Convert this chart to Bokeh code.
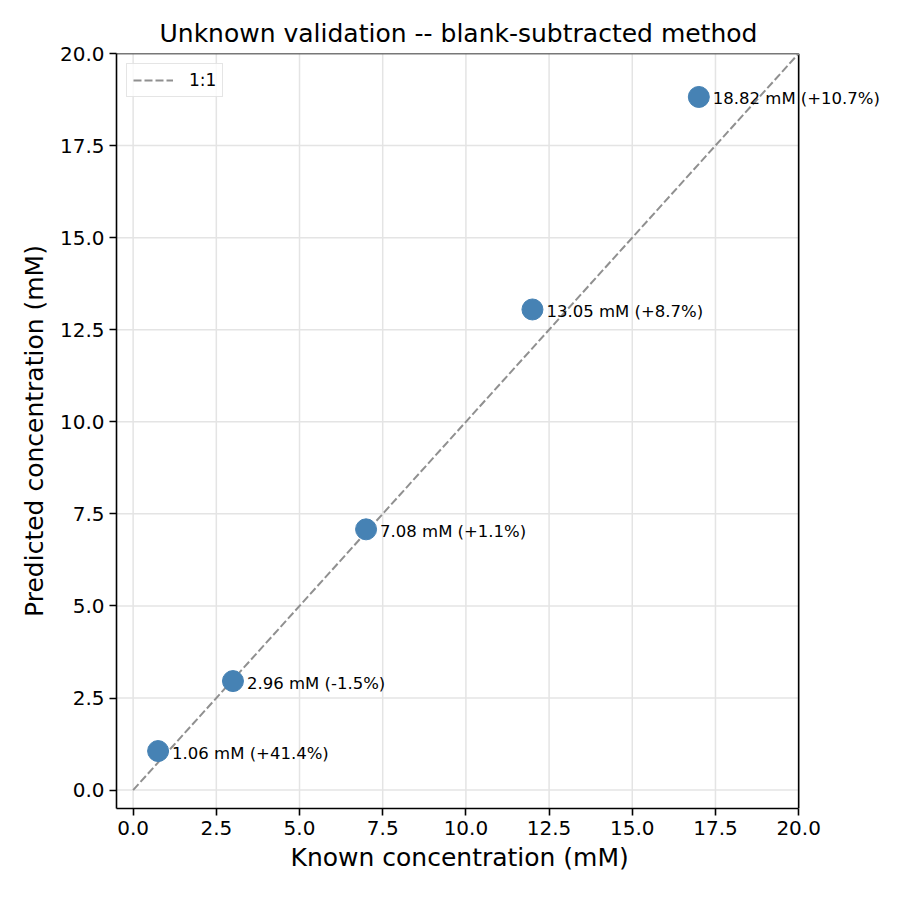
from bokeh.plotting import figure
from bokeh.models import Label, Title, FixedTicker, NumeralTickFormatter, Range1d
from bokeh.embed import file_html
from bokeh.resources import INLINE

known = [0.75, 3.0, 7.0, 12.0, 17.0]
predicted = [1.06, 2.96, 7.08, 13.05, 18.82]
labels = ["1.06 mM (+41.4%)", "2.96 mM (-1.5%)", "7.08 mM (+1.1%)",
          "13.05 mM (+8.7%)", "18.82 mM (+10.7%)"]
ticks = [0, 2.5, 5, 7.5, 10, 12.5, 15, 17.5, 20]
identity = [0, 20]

LO, HI = -0.5, 20
X_END = 22.7   # frame runs on past the box so the last label is not clipped

FONT = "DejaVu Sans"

p = figure(width=890, height=890, output_backend="svg", toolbar_location=None,
           x_range=Range1d(LO, X_END), y_range=Range1d(LO, HI),
           title="Unknown validation -- blank-subtracted method",
           y_axis_label="Predicted concentration (mM)",
           min_border_left=116, min_border_right=2, min_border_top=53, min_border_bottom=82)

p.title.align = "left"
p.title.offset = 43
p.title.text_font = FONT
p.title.text_font_size = "25px"
p.title.text_font_style = "normal"
p.title.text_color = "black"
p.title.standoff = 12

for ax in (p.xaxis, p.yaxis):
    ax.ticker = FixedTicker(ticks=ticks)
    ax.formatter = NumeralTickFormatter(format="0.0")
    ax.major_label_text_font = FONT
    ax.major_label_text_font_size = "20px"
    ax.major_label_text_color = "black"
    ax.axis_label_text_font = FONT
    ax.axis_label_text_font_size = "25px"
    ax.axis_label_text_font_style = "normal"
    ax.axis_label_text_color = "black"
    ax.axis_label_standoff = 8
    ax.major_label_standoff = 5
    ax.minor_tick_line_color = None
    ax.major_tick_in = 0
    ax.major_tick_out = 7
    ax.axis_line_color = "black"
    ax.axis_line_width = 1.6
    ax.major_tick_line_color = "black"
    ax.major_tick_line_width = 1.6
p.xaxis.bounds = (LO, HI)

# x label as a title below, so it centres under the box rather than the wider frame
p.add_layout(Title(text="Known concentration (mM)", align="left", offset=174,
                   text_font=FONT, text_font_size="25px", text_font_style="normal",
                   text_color="black", standoff=6), "below")

p.outline_line_color = None
p.grid.grid_line_color = None

# grid and the top/right edges of the box, limited to the axis ranges
p.segment(x0=ticks, y0=[LO] * len(ticks), x1=ticks, y1=[HI] * len(ticks),
          line_color="#e4e4e4", line_width=1.5)
p.segment(x0=[LO] * len(ticks), y0=ticks, x1=[HI] * len(ticks), y1=ticks,
          line_color="#e4e4e4", line_width=1.5)
p.segment(x0=[LO, HI], y0=[HI, LO], x1=[HI, HI], y1=[HI, HI],
          line_color="black", line_width=1.6)

p.line(identity, identity, line_dash="8 3", line_color="#909090", line_width=2, legend_label="1:1")

p.scatter(known, predicted, size=21, fill_color="#4682b4", line_color="#4682b4")

for kx, py, txt in zip(known, predicted, labels):
    p.add_layout(Label(x=kx, y=py, text=txt, x_offset=14, y_offset=-2,
                       text_baseline="middle", text_font=FONT,
                       text_font_size="16.5px", text_color="black"))

p.legend.location = "top_left"
p.legend.label_text_font = FONT
p.legend.label_text_font_size = "17px"
p.legend.label_text_color = "black"
p.legend.border_line_color = "#cccccc"
p.legend.border_line_width = 1.5
p.legend.background_fill_alpha = 0.8
p.legend.glyph_width = 40
p.legend.glyph_height = 20
p.legend.label_standoff = 16
p.legend.padding = 6
p.legend.margin = 10
p.legend.label_height = 20

open("out.html", "w").write(file_html(p, INLINE))
